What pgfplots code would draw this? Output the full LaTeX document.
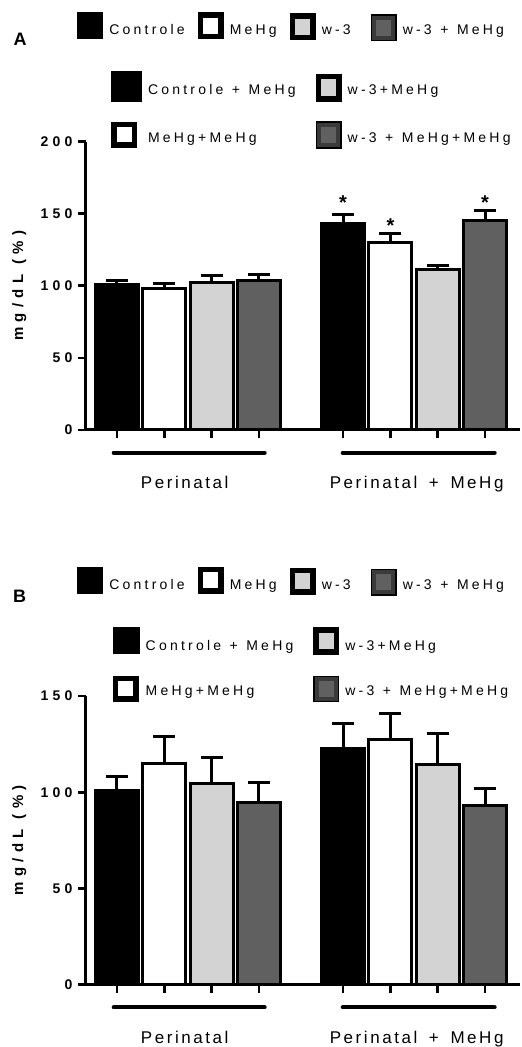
\documentclass[border=0pt]{standalone}
\usepackage{pgfplots}
\pgfplotsset{compat=1.18}
\usepackage{fontspec}
\setmainfont{Liberation Sans}
\newfontfamily\lsp[LetterSpace=23,WordSpace=1.2]{Liberation Sans}
\newfontfamily\gsp[LetterSpace=15,WordSpace=1.6]{Liberation Sans}
\newfontfamily\bsp[LetterSpace=36]{Liberation Sans}
\newfontfamily\tsp[LetterSpace=30]{Liberation Sans}
\definecolor{lgray}{RGB}{211,211,211}
\definecolor{dgray}{RGB}{96,96,96}
\definecolor{dborder}{RGB}{58,58,58}
\tikzset{
  glabel/.style={anchor=base, font=\gsp\fontsize{17}{19}\selectfont},
  star/.style={font=\bfseries\fontsize{20}{22}\selectfont},
}
\pgfplotsset{
  panel/.style={scale only axis, width=434pt, xmin=-0.655, xmax=8.52, ymin=0, clip=false},
  barstyle/.style={ybar, bar shift=0pt, bar width=0.91, draw=black, line width=3pt,
    error bars/y dir=plus, error bars/y explicit,
    error bars/error bar style={line width=3pt, black, solid},
    error bars/error mark options={rotate=90, line width=3pt, mark size=11pt, black}},
  % args: draw colour, fill colour, width, top, bottom (relative to text baseline)
  lbx/.style n args={5}{legend image code/.code={\path (0pt,#5pt) rectangle (#3pt,#4pt);
      \draw[line width=4pt, draw=#1, fill=#2] (2pt,#5pt+2pt) rectangle (#3pt-2pt,#4pt-2pt);}},
  mainax/.style={panel, axis x line=bottom, axis y line=left, axis line style={-, line width=3pt},
    xtick={0,1,2,3,4.78,5.78,6.78,7.78}, xticklabels={}, tick align=outside,
    major tick length=8pt, tick style={black, line width=2.7pt},
    /pgf/number format/assume math mode=true,
    yticklabel style={font=\tsp\bfseries\fontsize{14}{16}\selectfont, xshift=-2pt},
    ylabel={mg/dL (\%)},
    ylabel style={font=\bsp\bfseries\fontsize{15}{17}\selectfont, at={(axis description cs:-0.1535,0.5)}, anchor=center},
    legend columns=4,
    legend style={draw=none, fill=none, inner sep=0pt, outer sep=0pt, anchor=north west,
      font=\lsp\fontsize{14}{16}\selectfont, nodes={inner sep=0pt}, cells={anchor=base west},
      /tikz/every odd column/.style={column sep=6pt},
      /tikz/every even column/.style={column sep=13pt}}},
  secax/.style={panel, hide axis, legend columns=2,
    legend style={draw=none, fill=none, inner sep=0pt, outer sep=0pt, anchor=north west,
      font=\lsp\fontsize{14}{16}\selectfont, nodes={inner sep=0pt}, cells={anchor=base west},
      /tikz/every odd column/.style={column sep=6pt},
      /tikz/every even column/.style={column sep=20pt}}},
}
\begin{document}
\begin{tikzpicture}
\useasboundingbox (0pt,0pt) rectangle (522pt,1047pt);
% ---------------- Panel A ----------------
\begin{axis}[mainax, at={(86pt,617pt)}, anchor=south west, height=288.3pt, ymax=200,
  ytick={0,50,100,150,200},
  legend style={at={(axis description cs:-0.02,1.4488)}}]
\addplot[barstyle, fill=black, lbx={black}{black}{23}{21}{-3}] coordinates {(0,101) +- (0,3)};
\addlegendentry{Controle}
\addplot[barstyle, fill=white, lbx={black}{white}{23}{21}{-3}] coordinates {(1,98) +- (0,3.5)};
\addlegendentry{MeHg}
\addplot[barstyle, fill=lgray, lbx={black}{lgray}{23}{20}{-4}] coordinates {(2,102.5) +- (0,4.5)};
\addlegendentry{w-3\rule{7pt}{0pt}}
\addplot[barstyle, fill=dgray, lbx={dborder}{dgray}{23}{19}{-5}] coordinates {(3,104) +- (0,4)};
\addlegendentry{w-3 + MeHg}
\draw[line width=4pt, line cap=round] ([yshift=-22.7pt]axis cs:-0.07,0) -- ([yshift=-22.7pt]axis cs:3.123,0);
\draw[line width=4pt, line cap=round] ([yshift=-22.7pt]axis cs:4.772,0) -- ([yshift=-22.7pt]axis cs:7.985,0);
\node[glabel] at ([yshift=-59pt]axis cs:1.431,0) {Perinatal};
\node[glabel] at ([yshift=-59pt]axis cs:6.336,0) {Perinatal + MeHg};
\end{axis}
\begin{axis}[secax, at={(86pt,617pt)}, anchor=south west, height=288.3pt, ymax=200,
  legend style={at={(axis description cs:0.0576,1.2463)}, /tikz/row sep=19pt}]
\addplot[barstyle, fill=black, lbx={black}{black}{28}{22.6}{-6}] coordinates {(4.78,143.5) +- (0,6)};
\addlegendentry{Controle + MeHg}
\addplot[barstyle, fill=lgray, lbx={black}{lgray}{23}{19.3}{-5.4}] coordinates {(6.78,111.5) +- (0,2.5)};
\addlegendentry{w-3+MeHg}
\addplot[barstyle, fill=white, lbx={black}{white}{23}{19.3}{-3.4}] coordinates {(5.78,130) +- (0,6.5)};
\addlegendentry{MeHg+MeHg}
\addplot[barstyle, fill=dgray, lbx={dborder}{dgray}{23}{20}{-4.4}] coordinates {(7.78,145) +- (0,7)};
\addlegendentry{w-3 + MeHg+MeHg}
\node[star] at (axis cs:4.78,157.5) {*};
\node[star] at (axis cs:5.78,141.5) {*};
\node[star] at (axis cs:7.78,157.5) {*};
\end{axis}
\node[font=\bfseries\fontsize{18}{20}\selectfont] at (20pt,1008pt) {A};
% ---------------- Panel B ----------------
\begin{axis}[mainax, at={(86pt,62.3pt)}, anchor=south west, height=288.7pt, ymax=150,
  ytick={0,50,100,150},
  legend style={at={(axis description cs:-0.02,1.448)}}]
\addplot[barstyle, fill=black, lbx={black}{black}{23}{21}{-3}] coordinates {(0,101) +- (0,7)};
\addlegendentry{Controle}
\addplot[barstyle, fill=white, lbx={black}{white}{23}{21}{-3}] coordinates {(1,115) +- (0,14)};
\addlegendentry{MeHg}
\addplot[barstyle, fill=lgray, lbx={black}{lgray}{23}{20}{-4}] coordinates {(2,104.5) +- (0,13.5)};
\addlegendentry{w-3\rule{7pt}{0pt}}
\addplot[barstyle, fill=dgray, lbx={dborder}{dgray}{23}{19}{-5}] coordinates {(3,94.5) +- (0,10.5)};
\addlegendentry{w-3 + MeHg}
\draw[line width=4pt, line cap=round] ([yshift=-22.7pt]axis cs:-0.07,0) -- ([yshift=-22.7pt]axis cs:3.123,0);
\draw[line width=4pt, line cap=round] ([yshift=-22.7pt]axis cs:4.772,0) -- ([yshift=-22.7pt]axis cs:7.985,0);
\node[glabel] at ([yshift=-59pt]axis cs:1.431,0) {Perinatal};
\node[glabel] at ([yshift=-59pt]axis cs:6.336,0) {Perinatal + MeHg};
\end{axis}
\begin{axis}[secax, at={(86pt,62.3pt)}, anchor=south west, height=288.7pt, ymax=150,
  legend style={at={(axis description cs:0.0622,1.239)}, /tikz/row sep=21pt}]
\addplot[barstyle, fill=black, lbx={black}{black}{23.7}{22}{-2}] coordinates {(4.78,122.5) +- (0,13)};
\addlegendentry{Controle + MeHg}
\addplot[barstyle, fill=lgray, lbx={black}{lgray}{23}{22}{-2.7}] coordinates {(6.78,114.5) +- (0,16)};
\addlegendentry{w-3+MeHg}
\addplot[barstyle, fill=white, lbx={black}{white}{23}{18.7}{-4.3}] coordinates {(5.78,127.5) +- (0,13.5)};
\addlegendentry{MeHg+MeHg}
\addplot[barstyle, fill=dgray, lbx={dborder}{dgray}{23}{18.7}{-5}] coordinates {(7.78,93) +- (0,9)};
\addlegendentry{w-3 + MeHg+MeHg}
\end{axis}
\node[font=\bfseries\fontsize{18}{20}\selectfont] at (19.7pt,450.7pt) {B};
\end{tikzpicture}
\end{document}
